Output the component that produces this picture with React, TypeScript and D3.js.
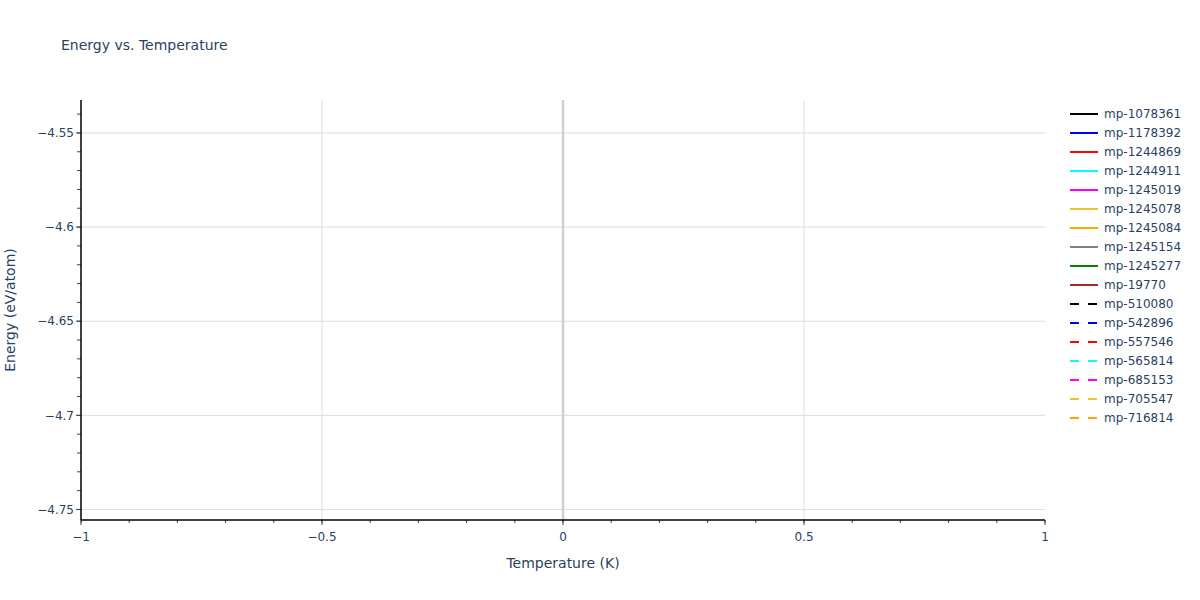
import { useEffect, useRef } from 'react';
import * as d3 from 'd3';

// series names, colours and dash style as shown in the legend
const seriesNames = [
  'mp-1078361', 'mp-1178392', 'mp-1244869', 'mp-1244911', 'mp-1245019',
  'mp-1245078', 'mp-1245084', 'mp-1245154', 'mp-1245277', 'mp-19770',
  'mp-510080', 'mp-542896', 'mp-557546', 'mp-565814', 'mp-685153',
  'mp-705547', 'mp-716814',
];
const seriesColors = [
  '#000000', '#0000ff', '#ff0000', '#00ffff', '#ff00ff',
  '#f0c431', '#ffa500', '#808080', '#008000', '#a52a2a',
  '#000000', '#0000ff', '#ff0000', '#00ffff', '#ff00ff',
  '#f0c431', '#ffa500',
];
const seriesDashed = [
  false, false, false, false, false, false, false, false, false, false,
  true, true, true, true, true, true, true,
];
// every series has a single point at 0 K, so nothing is drawn as a line
const seriesTemps: number[][] = seriesNames.map(() => [0]);
const seriesEnergies: number[][] = seriesNames.map(() => [-4.644]);

const xDomain: [number, number] = [-1, 1];
const yDomain: [number, number] = [-4.7556, -4.5325];
const xTicks = [-1, -0.5, 0, 0.5, 1];
const yTicks = [-4.75, -4.7, -4.65, -4.6, -4.55];

const FONT = 'Verdana, "DejaVu Sans", sans-serif';
const TEXT = '#2a3f5f';

export default function App() {
  const svgRef = useRef<SVGSVGElement>(null);

  useEffect(() => {
    if (!svgRef.current) return;
    const svg = d3.select(svgRef.current);
    svg.selectAll('*').remove();

    const margin = { top: 100, right: 155, bottom: 80, left: 81 };
    const width = 1200 - margin.left - margin.right;
    const height = 600 - margin.top - margin.bottom;

    svg.attr('font-family', FONT);

    const x = d3.scaleLinear().domain(xDomain).range([0, width]);
    const y = d3.scaleLinear().domain(yDomain).range([height, 0]);

    const g = svg.append('g').attr('transform', `translate(${margin.left},${margin.top})`);

    // grid
    g.selectAll('.gx')
      .data(xTicks.filter(t => t !== 0 && t !== 1 && t !== -1))
      .join('line')
      .attr('x1', d => x(d)).attr('x2', d => x(d))
      .attr('y1', 0).attr('y2', height)
      .attr('stroke', '#dddddd').attr('stroke-width', 1);
    g.selectAll('.gy')
      .data(yTicks)
      .join('line')
      .attr('x1', 0).attr('x2', width)
      .attr('y1', d => y(d)).attr('y2', d => y(d))
      .attr('stroke', '#dddddd').attr('stroke-width', 1);

    // zero line
    g.append('line')
      .attr('x1', x(0)).attr('x2', x(0))
      .attr('y1', 0).attr('y2', height)
      .attr('stroke', '#d0d0d0').attr('stroke-width', 2.5);

    // series
    const line = d3.line<[number, number]>()
      .x(d => x(d[0]))
      .y(d => y(d[1]));
    seriesNames.forEach((_, i) => {
      const pts = seriesTemps[i].map((t, j) => [t, seriesEnergies[i][j]] as [number, number]);
      g.append('path')
        .datum(pts)
        .attr('fill', 'none')
        .attr('stroke', seriesColors[i])
        .attr('stroke-width', 2)
        .attr('stroke-dasharray', seriesDashed[i] ? '9,9' : null)
        .attr('d', line);
    });

    // x axis
    const xMinor = d3.range(-10, 11).map(v => v / 10);
    g.selectAll('.xminor')
      .data(xMinor)
      .join('line')
      .attr('x1', d => x(d)).attr('x2', d => x(d))
      .attr('y1', height).attr('y2', height + 3)
      .attr('stroke', '#444').attr('stroke-width', 1);
    g.selectAll('.xmajor')
      .data(xTicks)
      .join('line')
      .attr('x1', d => x(d)).attr('x2', d => x(d))
      .attr('y1', height).attr('y2', height + 5)
      .attr('stroke', '#444').attr('stroke-width', 1);
    g.append('line')
      .attr('x1', 0).attr('x2', width)
      .attr('y1', height).attr('y2', height)
      .attr('stroke', '#000').attr('stroke-width', 1.5);
    g.selectAll('.xlab')
      .data(xTicks)
      .join('text')
      .attr('x', d => x(d))
      .attr('y', height + 21)
      .attr('text-anchor', 'middle')
      .attr('fill', TEXT)
      .attr('font-size', 12)
      .text(d => d3.format('')(d).replace('-', '\u2212'));

    // y axis
    const yMinor = d3.range(-476, -452).map(v => v / 100).filter(v => v >= yDomain[0] && v <= yDomain[1]);
    g.selectAll('.yminor')
      .data(yMinor)
      .join('line')
      .attr('x1', -4).attr('x2', 0)
      .attr('y1', d => y(d)).attr('y2', d => y(d))
      .attr('stroke', '#444').attr('stroke-width', 1);
    g.selectAll('.ymajor')
      .data(yTicks)
      .join('line')
      .attr('x1', -5).attr('x2', 0)
      .attr('y1', d => y(d)).attr('y2', d => y(d))
      .attr('stroke', '#444').attr('stroke-width', 1);
    g.append('line')
      .attr('x1', 0).attr('x2', 0)
      .attr('y1', 0).attr('y2', height)
      .attr('stroke', '#000').attr('stroke-width', 1.5);
    g.selectAll('.ylab')
      .data(yTicks)
      .join('text')
      .attr('x', -7)
      .attr('y', d => y(d))
      .attr('dy', '0.35em')
      .attr('text-anchor', 'end')
      .attr('fill', TEXT)
      .attr('font-size', 12)
      .text(d => d3.format('')(d).replace('-', '\u2212'));

    // axis titles
    svg.append('text')
      .attr('x', margin.left + width / 2)
      .attr('y', 568)
      .attr('text-anchor', 'middle')
      .attr('fill', TEXT)
      .attr('font-size', 14)
      .text('Temperature (K)');
    svg.append('text')
      .attr('transform', `translate(15,${margin.top + height / 2}) rotate(-90)`)
      .attr('text-anchor', 'middle')
      .attr('fill', TEXT)
      .attr('font-size', 14)
      .text('Energy (eV/atom)');

    // title
    svg.append('text')
      .attr('x', 61)
      .attr('y', 50)
      .attr('fill', TEXT)
      .attr('font-size', 14)
      .text('Energy vs. Temperature');

    // legend
    const leg = svg.append('g').attr('transform', 'translate(1070,114)');
    seriesNames.forEach((name, i) => {
      const row = leg.append('g').attr('transform', `translate(0,${i * 19})`);
      row.append('line')
        .attr('x1', 0).attr('x2', 28)
        .attr('y1', 0).attr('y2', 0)
        .attr('stroke', seriesColors[i])
        .attr('stroke-width', 2)
        .attr('stroke-dasharray', seriesDashed[i] ? '9,9' : null);
      row.append('text')
        .attr('x', 34)
        .attr('y', 0)
        .attr('dy', '0.35em')
        .attr('fill', TEXT)
        .attr('font-size', 12)
        .text(name);
    });
  }, []);

  return (
    <svg
      ref={svgRef}
      width={1200}
      height={600}
      style={{ position: 'absolute', left: 0, top: 0, background: '#fff' }}
    />
  );
}
